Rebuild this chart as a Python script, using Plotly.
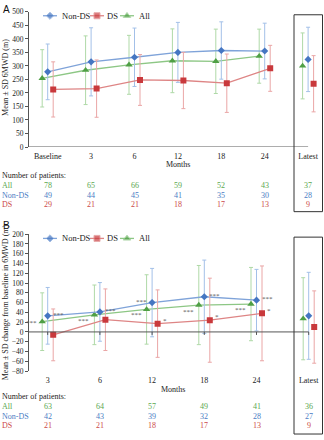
import plotly.graph_objects as go

# ---------------- data ----------------
cats_a = ["Baseline", "3", "6", "12", "18", "24", "Latest"]
cats_b = ["3", "6", "12", "18", "24", "Latest"]

# Panel A: mean ± SD 6MWD (m); last value = latest visit
nonds_a = [278, 315, 332, 350, 357, 355, 324]
nonds_a_sd = [103, 126, 108, 111, 106, 103, 119]
ds_a = [213, 216, 248, 246, 236, 291, 234]
ds_a_sd = [102, 106, 94, 104, 108, 85, 104]
all_a = [254, 284, 304, 319, 317, 336, 300]
all_a_sd = [106, 127, 109, 118, 119, 100, 122]

# Panel B: mean ± SD change from baseline (m)
nonds_b = [33, 41, 60, 72, 65, 33]
nonds_b_sd = [58, 60, 70, 75, 63, 89]
ds_b = [-6, 25, 17, 24, 38, 10]
ds_b_sd = [53, 63, 69, 86, 97, 74]
all_b = [21, 35, 46, 55, 57, 27]
all_b_sd = [59, 61, 71, 81, 75, 84]

# significance markers for panel B (per time point, excluding latest)
sig_nonds_b = ["***", "***", "***", "***", "***"]
sig_all_b = ["***", "***", "***", "***", "***"]
sig_ds_b = ["", "", "*", "*", "*"]

# patient counts
n_all_a = [78, 65, 66, 59, 52, 43, 37]
n_nonds_a = [49, 44, 45, 41, 35, 30, 28]
n_ds_a = [29, 21, 21, 18, 17, 13, 9]
n_all_b = [63, 64, 57, 49, 41, 36]
n_nonds_b = [42, 43, 39, 32, 28, 27]
n_ds_b = [21, 21, 18, 17, 13, 9]

# ---------------- style ----------------
W, H = 324, 440
SERIF = "Liberation Serif"
AX = "#555555"

STY = {
    "Non-DS": dict(mk="#4576c2", ln="#7fa3d9", eb="#a3c0e8", sym="diamond", size=5.5),
    "DS": dict(mk="#c9393c", ln="#de8585", eb="#eaa6a6", sym="square", size=6),
    "All": dict(mk="#4f9f45", ln="#8dc785", eb="#afd9a7", sym="triangle-up", size=6.5),
}
TXT = {"Non-DS": "#4a7cc4", "DS": "#cc4a4a", "All": "#5aa84f"}


def fx(p):
    return p / W


def fy(p):
    return 1 - p / H


# panel geometry (pixels)
A_TOP, A_BOT = 8, 146
B_TOP, B_BOT = 235, 374.7
X_LEFT = 29
A_X0, A_STEP = 47.7, 43.4
B_X0, B_STEP = 47.7, 52.2
rng_a = [(X_LEFT - A_X0) / A_STEP, (W - A_X0) / A_STEP]
rng_b = [(X_LEFT - B_X0) / B_STEP, (W - B_X0) / B_STEP]
OFF_A = 5.5 / A_STEP
OFF_B = 5.5 / B_STEP

fig = go.Figure()


def add_series(name, vals, sds, off, xa, ya, n_conn):
    s = STY[name]
    n = len(vals)
    xs = [i + off for i in range(n)]
    eb = dict(type="data", color=s["eb"], thickness=1, width=2)
    fig.add_trace(go.Scatter(
        x=xs[:n_conn], y=vals[:n_conn], mode="lines+markers",
        line=dict(color=s["ln"], width=1.3),
        marker=dict(symbol=s["sym"], size=s["size"], color=s["mk"]),
        error_y=dict(array=sds[:n_conn], **eb),
        xaxis=xa, yaxis=ya, showlegend=False, name=name))
    fig.add_trace(go.Scatter(
        x=xs[n_conn:], y=vals[n_conn:], mode="markers",
        marker=dict(symbol=s["sym"], size=s["size"], color=s["mk"]),
        error_y=dict(array=sds[n_conn:], **eb),
        xaxis=xa, yaxis=ya, showlegend=False, name=name))


add_series("All", all_a, all_a_sd, -OFF_A, "x", "y", 6)
add_series("Non-DS", nonds_a, nonds_a_sd, 0, "x", "y", 6)
add_series("DS", ds_a, ds_a_sd, OFF_A, "x", "y", 6)

add_series("All", all_b, all_b_sd, -OFF_B, "x2", "y2", 5)
add_series("Non-DS", nonds_b, nonds_b_sd, 0, "x2", "y2", 5)
add_series("DS", ds_b, ds_b_sd, OFF_B, "x2", "y2", 5)

# legend keys drawn on a pixel-space overlay axis
for yk in (12, 239.3):
    for name, x0 in (("Non-DS", 43), ("DS", 90), ("All", 120)):
        s = STY[name]
        fig.add_trace(go.Scatter(
            x=[x0, x0 + 7, x0 + 14], y=[yk, yk, yk], mode="lines+markers",
            line=dict(color=s["ln"], width=1.3),
            marker=dict(symbol=s["sym"], size=[0, s["size"], 0], color=s["mk"]),
            xaxis="x3", yaxis="y3", showlegend=False, hoverinfo="skip"))

ann = []


def text(x, y, t, size=8, color="#222", xanchor="center", xref="paper", yref="paper", **kw):
    ann.append(dict(x=x, y=y, text=t, showarrow=False, xref=xref, yref=yref,
                    xanchor=xanchor, yanchor="middle",
                    font=dict(family=SERIF, size=size, color=color), **kw))


# legend labels
for yk in (12, 239.3):
    for name, x0 in (("Non-DS", 60), ("DS", 105), ("All", 137)):
        text(fx(x0), fy(yk), name, size=8.5, color="#222", xanchor="left")

# panel letters
for lbl, yy in (("A", 6), ("B", 226)):
    ann.append(dict(x=fx(1), y=fy(yy), text=lbl, showarrow=False, xref="paper", yref="paper",
                    xanchor="left", yanchor="middle",
                    font=dict(family="Liberation Sans", size=10, color="#111")))

# y-axis titles
for t, yy in (("Mean ± SD 6MWD (m)", 75), ("Mean ± SD change from baseline in 6MWD (m)", 305)):
    ann.append(dict(x=fx(5.5), y=fy(yy), text=t, showarrow=False,
                    xref="paper", yref="paper", textangle=-90,
                    xanchor="center", yanchor="middle",
                    font=dict(family=SERIF, size=8, color="#222")))

# x-axis titles
text(fx(178), fy(163.5), "Months")
text(fx(173), fy(393.5), "Months")

# patient count tables
text(fx(0), fy(175), "Number of patients:", xanchor="left")
text(fx(0), fy(401), "Number of patients:", xanchor="left")
for rows, xref, ys in (
    ((("All", n_all_a), ("Non-DS", n_nonds_a), ("DS", n_ds_a)), "x", (185, 195, 204.5)),
    ((("All", n_all_b), ("Non-DS", n_nonds_b), ("DS", n_ds_b)), "x2", (411, 421, 430.5)),
):
    for (name, counts), yy in zip(rows, ys):
        text(fx(0), fy(yy), name, color=TXT[name], xanchor="left")
        for i, c in enumerate(counts):
            text(i, fy(yy), str(c), color=TXT[name], xref=xref)


# significance markers (panel B)
def sig(vals, marks, off, sides, dys):
    for i, m in enumerate(marks):
        if not m:
            continue
        left = sides[i] == "L"
        ann.append(dict(x=i + off, y=vals[i], xref="x2", yref="y2", text=m, showarrow=False,
                        xanchor="right" if left else "left", yanchor="middle",
                        xshift=-3 if left else 3, yshift=dys[i],
                        font=dict(family=SERIF, size=7, color="#555")))


sig(all_b, sig_all_b, -OFF_B, "LLLLL", [-1, -6, -5.5, -7, -5.5])
sig(nonds_b, sig_nonds_b, 0, "RRLRR", [1, 1, 1, 1, 1])
sig(ds_b, sig_ds_b, OFF_B, "RRRRR", [0, 0, 2.5, 3, 2.5])

# axis lines, ticks and framing boxes
shapes = []
shapes.append(dict(type="line", xref="x", yref="y", x0=rng_a[0], x1=len(cats_a) - 1, y0=0, y1=0,
                   line=dict(color=AX, width=1)))
shapes.append(dict(type="line", xref="x2", yref="y2", x0=rng_b[0], x1=len(cats_b) - 1, y0=0, y1=0,
                   line=dict(color=AX, width=1)))
for xr, yr, n in (("x", "y", len(cats_a)), ("x2", "y2", len(cats_b))):
    for i in range(n):
        shapes.append(dict(type="line", xref=xr, yref=yr, ysizemode="pixel", yanchor=0,
                           x0=i, x1=i, y0=0, y1=-3, line=dict(color=AX, width=1)))
shapes.append(dict(type="rect", xref="paper", yref="paper", x0=fx(294), x1=fx(322.5),
                   y0=fy(212), y1=fy(11), line=dict(color="#333", width=1)))
shapes.append(dict(type="rect", xref="paper", yref="paper", x0=fx(294), x1=fx(322.5),
                   y0=fy(439), y1=fy(238), line=dict(color="#333", width=1)))

tickfont = dict(family=SERIF, size=7.5, color="#222")
xcommon = dict(showgrid=False, zeroline=False, showline=False, ticks="",
               tickfont=dict(family=SERIF, size=8, color="#222"))
ycommon = dict(showgrid=False, zeroline=False, showline=True, linecolor=AX, linewidth=1,
               ticks="outside", ticklen=3, tickcolor=AX, tickfont=tickfont)

fig.update_layout(
    width=W, height=H, margin=dict(l=0, r=0, t=0, b=0),
    paper_bgcolor="white", plot_bgcolor="rgba(0,0,0,0)", showlegend=False,
    xaxis=dict(domain=[fx(X_LEFT), 1], range=rng_a, anchor="y",
               tickvals=list(range(len(cats_a))), ticktext=cats_a, ticklabelstandoff=3, **xcommon),
    yaxis=dict(domain=[fy(A_BOT), fy(A_TOP)], range=[0, 500], dtick=50, anchor="x", **ycommon),
    xaxis2=dict(domain=[fx(X_LEFT), 1], range=rng_b, anchor="y2",
                tickvals=list(range(len(cats_b))), ticktext=cats_b, ticklabelstandoff=3, **xcommon),
    yaxis2=dict(domain=[fy(B_BOT), fy(B_TOP)], range=[-80, 200], dtick=20, anchor="x2", **ycommon),
    xaxis3=dict(domain=[0, 1], range=[0, W], visible=False, anchor="y3"),
    yaxis3=dict(domain=[0, 1], range=[H, 0], visible=False, anchor="x3"),
    annotations=ann, shapes=shapes,
)

fig.write_html("out.html")
